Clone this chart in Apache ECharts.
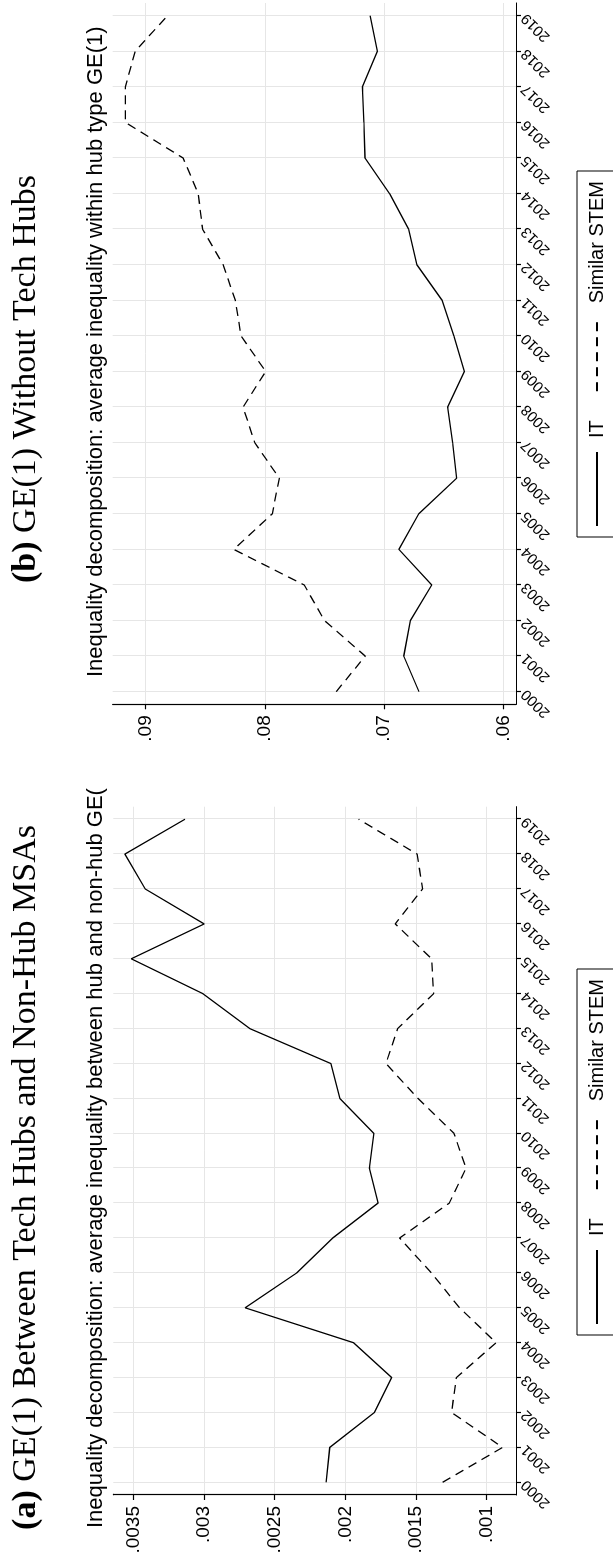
<!DOCTYPE html>
<html>
<head>
<meta charset="utf-8">
<script src="https://cdn.jsdelivr.net/npm/echarts@6/dist/echarts.min.js"></script>
<style>
html, body { margin: 0; padding: 0; overflow: hidden; background: #fff; }
#page { position: relative; width: 613px; height: 1564px; overflow: hidden; background: #fff; }
#chart { position: absolute; left: 0; top: 0; width: 1564px; height: 613px;
  transform-origin: 0 0; transform: translate(0px, 1564px) rotate(-90deg); }
</style>
</head>
<body>
<div id="page"><div id="chart"></div></div>
<script>
// ---- data ----
const years = [2000, 2001, 2002, 2003, 2004, 2005, 2006, 2007, 2008, 2009,
               2010, 2011, 2012, 2013, 2014, 2015, 2016, 2017, 2018, 2019];
const itA   = [0.002136, 0.002110, 0.001794, 0.001671, 0.001942, 0.002710, 0.002344, 0.002089, 0.001768, 0.001829,
               0.001798, 0.002039, 0.002103, 0.002677, 0.003009, 0.003517, 0.003000, 0.003418, 0.003562, 0.003136];
const stemA = [0.001310, 0.000885, 0.001247, 0.001213, 0.000931, 0.001190, 0.001390, 0.001615, 0.001263, 0.001144,
               0.001230, 0.001485, 0.001712, 0.001629, 0.001374, 0.001388, 0.001646, 0.001452, 0.001491, 0.001906];
const itB   = [0.06707, 0.06835, 0.06780, 0.06600, 0.06876, 0.06709, 0.06392, 0.06425, 0.06467, 0.06327,
               0.06415, 0.06513, 0.06725, 0.06794, 0.06954, 0.07160, 0.07170, 0.07183, 0.07056, 0.07118];
const stemB = [0.07402, 0.07158, 0.07500, 0.07670, 0.08261, 0.07938, 0.07879, 0.08085, 0.08183, 0.07993,
               0.08200, 0.08248, 0.08350, 0.08523, 0.08559, 0.08686, 0.09170, 0.09170, 0.09088, 0.08817];
const ticksA = [0.001, 0.0015, 0.002, 0.0025, 0.003, 0.0035];
const ticksB = [0.06, 0.07, 0.08, 0.09];
const seriesNames = ['IT', 'Similar STEM'];
const titleA = 'GE(1) Between Tech Hubs and Non-Hub MSAs';
const titleB = 'GE(1) Without Tech Hubs';
const subA = 'Inequality decomposition: average inequality between hub and non-hub GE(1)';
const subB = 'Inequality decomposition: average inequality within hub type GE(1)';

// ---- chart ----
const SANS = 'Liberation Sans, Arial, Helvetica, sans-serif';
const SERIF = 'Liberation Serif, Times New Roman, serif';
const GRIDC = '#e6e6e6';
const pairs = arr => years.map((y, i) => [y, arr[i]]);
const fmtVal = v => String(+(+v).toFixed(6)).replace(/^0\./, '.');

function xAx(gi, min, max) {
  return {
    type: 'value', gridIndex: gi, min: min, max: max, position: 'bottom',
    axisLine: { show: true, onZero: false, lineStyle: { color: '#000', width: 1.2 } },
    axisTick: { show: true, length: 5, inside: false, customValues: years, lineStyle: { color: '#000', width: 1.2 } },
    axisLabel: { show: true, customValues: years, rotate: 45, margin: 8, fontSize: 15, fontFamily: SANS, color: '#000',
                 formatter: v => String(v) },
    splitLine: { show: true, lineStyle: { color: GRIDC, width: 1 } }
  };
}
function yAx(gi, min, max, ticks) {
  return {
    type: 'value', gridIndex: gi, min: min, max: max, position: 'left',
    axisLine: { show: true, onZero: false, lineStyle: { color: '#000', width: 1.2 } },
    axisTick: { show: true, length: 5, inside: false, customValues: ticks, lineStyle: { color: '#000', width: 1.2 } },
    axisLabel: { show: true, customValues: ticks, margin: 11, fontSize: 19, fontFamily: SANS, color: '#000',
                 formatter: fmtVal },
    splitLine: { show: true, lineStyle: { color: GRIDC, width: 1 } }
  };
}
function line(name, data, gi, dashed) {
  return {
    type: 'line', name: name, xAxisIndex: gi, yAxisIndex: gi, data: pairs(data),
    symbol: 'none', showSymbol: false, silent: true, animation: false,
    lineStyle: { color: '#000', width: 1.3, type: dashed ? [9, 6] : 'solid' },
    itemStyle: { color: '#000' }
  };
}
function legendAt(left) {
  return {
    show: true, orient: 'horizontal', left: left, top: 577,
    data: seriesNames, itemWidth: 74, itemHeight: 14, itemGap: 28,
    padding: [10, 10, 40, 10], borderColor: '#000', borderWidth: 1, borderRadius: 0,
    backgroundColor: '#fff', selectedMode: false,
    itemStyle: { color: 'rgba(0,0,0,0)', borderWidth: 0, opacity: 0 },
    formatter: name => '{t|' + name + '}',
    textStyle: { fontSize: 20, fontFamily: SANS, color: '#000',
                 rich: { t: { fontSize: 20, fontFamily: SANS, color: '#000', padding: [0, 0, 0, 9] } } }
  };
}

const chart = echarts.init(document.getElementById('chart'), null, { renderer: 'canvas' });
chart.setOption({
  animation: false,
  backgroundColor: '#fff',
  grid: [
    { left: 69, top: 113.3, width: 688.3, height: 402.7, containLabel: false },
    { left: 859.7, top: 112.7, width: 701.3, height: 403.3, containLabel: false }
  ],
  xAxis: [ xAx(0, 1999.636, 2019.358), xAx(1, 1999.646, 2019.357) ],
  yAxis: [ yAx(0, 0.00079, 0.0036443, ticksA), yAx(1, 0.058935, 0.092766, ticksB) ],
  legend: [ legendAt(229), legendAt(1027) ],
  series: [
    line(seriesNames[0], itA, 0, false),
    line(seriesNames[1], stemA, 0, true),
    line(seriesNames[0], itB, 1, false),
    line(seriesNames[1], stemB, 1, true)
  ],
  graphic: [
    { type: 'text', x: 386.5, y: 26, silent: true,
      style: { text: '{b|(a)} ' + titleA, fontSize: 34, fontFamily: SERIF, fill: '#000',
               align: 'center', verticalAlign: 'middle',
               rich: { b: { fontSize: 34, fontFamily: SERIF, fontWeight: 'bold', fill: '#000' } } } },
    { type: 'text', x: 1185, y: 26, silent: true,
      style: { text: '{b|(b)} ' + titleB, fontSize: 34, fontFamily: SERIF, fill: '#000',
               align: 'center', verticalAlign: 'middle',
               rich: { b: { fontSize: 34, fontFamily: SERIF, fontWeight: 'bold', fill: '#000' } } } },
    { type: 'text', x: 36, y: 96, silent: true,
      style: { text: subA, fontSize: 22, fontFamily: SANS, fill: '#000', align: 'left', verticalAlign: 'middle',
               width: 748, overflow: 'truncate', ellipsis: '' } },
    { type: 'text', x: 887, y: 96, silent: true,
      style: { text: subB, fontSize: 22, fontFamily: SANS, fill: '#000', align: 'left', verticalAlign: 'middle' } }
  ]
});
</script>
</body>
</html>
